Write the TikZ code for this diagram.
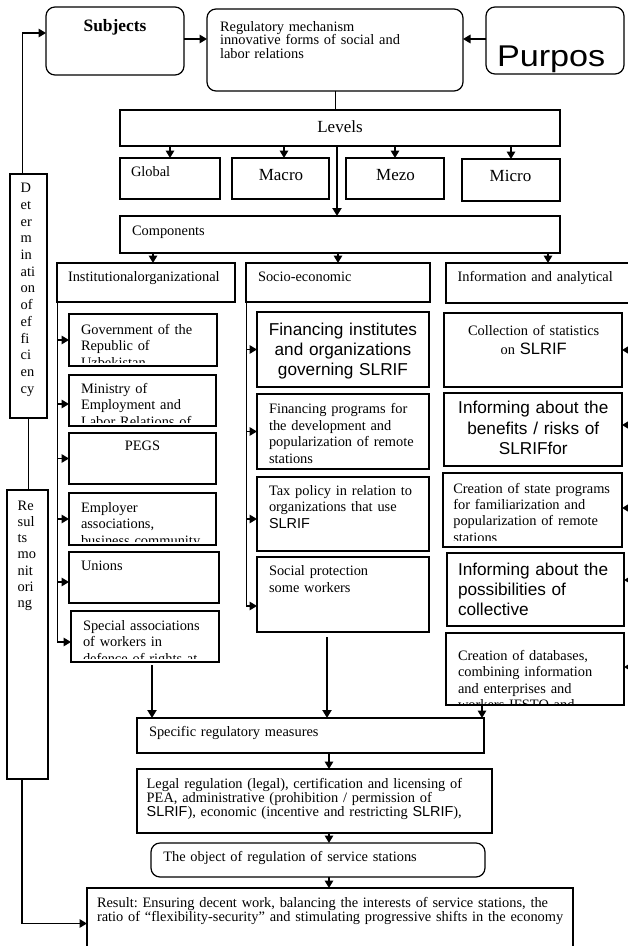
\documentclass[tikz,border=0pt]{standalone}
\usepackage{fontspec}
\setmainfont{Liberation Serif}
\newfontfamily\arial{Liberation Sans}
\usetikzlibrary{arrows.meta}
\frenchspacing
\tikzset{
 bx/.style={draw, line width=1.2pt, inner sep=0pt, outer sep=0pt, anchor=north west},
 rbx/.style={bx, rounded corners=9pt},
 tx/.style={inner sep=0pt, outer sep=0pt, anchor=base west, align=left, text width=560pt, font=\fontsize{14.4}{16.5}\selectfont},
 ctx/.style={tx, anchor=base, align=center, text width=200pt},
 arr/.style={line width=1.6pt, -{Triangle[length=7.5pt,width=8.5pt]}},
 tarr/.style={line width=2.3pt, -{Triangle[length=8pt,width=9pt]}},
 ln/.style={line width=1pt},
}
\newcommand\mkbox[6][bx]{\node[#1,minimum width={#5pt-#3pt},minimum height={#6pt-#4pt}] (#2) at (#3,#4) {};}
\newcommand\boxclip[2][4]{\clip (#2.north west) rectangle ([yshift=#1pt]#2.south east);}
\begin{document}
\begin{tikzpicture}[x=1pt,y=-1pt]
\useasboundingbox (0,0) rectangle (628,946);
\clip (0,0) rectangle (628,946);
% ---------- boxes
\mkbox[rbx]{subj}{46}{7}{184}{75}
\mkbox[rbx]{reg}{207}{9}{463}{91}
\mkbox[rbx]{purp}{486}{7}{624}{74}
\mkbox{lev}{120}{110}{560}{146}
\mkbox{glob}{120}{158}{220}{199}
\mkbox{macro}{232}{158}{329}{199}
\mkbox{mezo}{346}{158}{444}{199}
\mkbox{micro}{462}{159}{560}{201}
\mkbox{comp}{120}{216}{560}{253}
\mkbox{inst}{57}{263}{235}{302}
\mkbox{socio}{246}{263}{430}{302}
\mkbox{info}{446}{263}{640}{303}
\mkbox{gov}{69}{314}{217}{366}
\mkbox{mini}{69}{375}{216}{426}
\mkbox{pegs}{69}{433}{216}{484}
\mkbox{empl}{69}{493}{216}{545}
\mkbox{unio}{69}{552}{219}{603}
\mkbox{spas}{71}{611}{219}{662}
\mkbox{fina}{257}{312}{429}{387}
\mkbox{finb}{257}{394}{429}{469}
\mkbox{tax}{257}{477}{429}{551}
\mkbox{soc}{257}{557}{429}{632}
\mkbox{coll}{444}{313}{622}{387}
\mkbox{bene}{444}{393}{622}{466}
\mkbox{cre}{443}{473}{622}{547}
\mkbox{poss}{447}{553}{624}{626}
\mkbox{datab}{446}{633}{624}{705}
\mkbox{spec}{137}{718}{484}{753}
\mkbox{legal}{137}{769}{492}{833}
\mkbox[rbx]{obj}{151}{843}{485}{877}
\mkbox{result}{87}{888}{573}{955}
\mkbox{det}{10}{174}{47}{418}
\mkbox{resm}{7}{490}{48}{779}
% ---------- texts
\node[ctx, font=\fontsize{17.4}{18}\selectfont\bfseries] (tsubj) at (115,31.7) {Subjects};
\node[tx, font=\fontsize{14.4}{13.7}\selectfont] (treg) at (220,31) {Regulatory mechanism\\innovative forms of social and\\labor relations};
\node[tx] (tpurp) at (497,66) {\scalebox{1.14}[1]{\fontsize{30}{30}\selectfont\arial Purpos}};
\node[ctx, font=\fontsize{17}{18}\selectfont] (tlev) at (340,132.7) {Levels};
\node[tx] (tglob) at (131,176.7) {Global};
\node[ctx, font=\fontsize{17}{18}\selectfont] (tmacro) at (281,180) {Macro};
\node[ctx, font=\fontsize{17}{18}\selectfont] (tmezo) at (395.5,180) {Mezo};
\node[ctx, font=\fontsize{17}{18}\selectfont] (tmicro) at (510.5,181) {Micro};
\node[tx] (tcomp) at (132,235) {Components};
\node[tx] (tinst) at (68,281.7) {Institutionalorganizational};
\node[tx] (tsocio) at (258,281.7) {Socio-economic};
\node[tx] (tinfo) at (457.7,281.7) {Information and analytical};
\begin{scope}\boxclip{gov}
\node[tx, font=\fontsize{14.4}{16.5}\selectfont] (tgov) at (81,334.3) {Government of the\\Republic of\\Uzbekistan};
\end{scope}
\begin{scope}\boxclip{mini}
\node[tx, font=\fontsize{14.4}{16.5}\selectfont] (tmini) at (81,393.3) {Ministry of\\Employment and\\Labor Relations of};
\end{scope}
\node[ctx] (tpegs) at (142.5,450.7) {PEGS};
\begin{scope}\boxclip{empl}
\node[tx, font=\fontsize{14.4}{16.5}\selectfont] (templ) at (81,512) {Employer\\associations,\\business community};
\end{scope}
\node[tx] (tunio) at (81,570) {Unions};
\begin{scope}\boxclip{spas}
\node[tx, font=\fontsize{14.4}{16.5}\selectfont] (tspas) at (83,630) {Special associations\\of workers in\\defence of rights at};
\end{scope}
\node[ctx, font=\fontsize{17.2}{20}\selectfont\arial] (tfina) at (343,335) {Financing institutes\\and organizations\\governing SLRIF};
\node[tx, font=\fontsize{14.4}{16.7}\selectfont] (tfinb) at (269,413.3) {Financing programs for\\the development and\\popularization of remote\\stations};
\node[tx, font=\fontsize{14.4}{16.7}\selectfont] (ttax) at (269,495) {Tax policy in relation to\\organizations that use\\{\arial SLRIF}};
\node[tx, font=\fontsize{14.4}{16.7}\selectfont] (tsoc) at (269,575.7) {Social protection\\some workers};
\node[ctx, font=\fontsize{14.4}{19}\selectfont] (tcoll) at (533.7,335) {Collection of statistics\\on {\arial\fontsize{16.5}{19}\selectfont SLRIF}};
\node[ctx, font=\fontsize{17.2}{20.8}\selectfont\arial] (tbene) at (533.3,413.3) {Informing about the\\benefits / risks of\\SLRIFfor};
\begin{scope}\boxclip[7]{cre}
\node[tx, font=\fontsize{14.4}{16.3}\selectfont] (tcre) at (453.3,493.3) {Creation of state programs\\for familiarization and\\popularization of remote\\stations};
\end{scope}
\node[tx, font=\fontsize{17.2}{20}\selectfont\arial] (tposs) at (458,575) {Informing about the\\possibilities of\\collective};
\begin{scope}\boxclip[1]{datab}
\node[tx, font=\fontsize{14.4}{16.5}\selectfont] (tdatab) at (458,660) {Creation of databases,\\combining information\\and enterprises and\\workers IFSTO and};
\end{scope}
\node[tx] (tspec) at (149,736.7) {Specific regulatory measures};
\node[tx, font=\fontsize{14.4}{14.2}\selectfont] (tlegal) at (146.7,788.3) {Legal regulation (legal), certification and licensing of\\PEA, administrative (prohibition / permission of\\{\arial SLRIF}), economic (incentive and restricting {\arial SLRIF}),};
\node[tx] (tobj) at (163.3,861.7) {The object of regulation of service stations};
\node[tx, font=\fontsize{14.4}{13}\selectfont] (tresult) at (97,907.3) {Result: Ensuring decent work, balancing the interests of service stations, the\\ratio of “flexibility-security” and stimulating progressive shifts in the economy};
\node[tx, font=\fontsize{14.4}{16.7}\selectfont] (tdet) at (20.7,192.7) {D\\et\\er\\m\\in\\ati\\on\\of\\ef\\fi\\ci\\en\\cy};
\node[tx, font=\fontsize{14.4}{16.3}\selectfont] (tresm) at (17.7,510) {Re\\sul\\ts\\mo\\nit\\ori\\ng};
% ---------- connectors
\draw[arr] ([xshift=-6pt]det.north) |- ([yshift=8pt]subj.west);
\draw[arr] ([yshift=2pt]subj.east) -- ([yshift=2pt]subj.east -| reg.west);
\draw[arr] ([yshift=1.5pt]purp.west) -- ([yshift=1.5pt]purp.west -| reg.east);
\draw[ln] (reg.south) -- (reg.south |- lev.north);
\draw[arr] (lev.south -| glob.north) -- (glob.north);
\path ([xshift=3.5pt]macro.north) coordinate (mca);
\draw[arr] (lev.south -| mca) -- (mca);
\draw[arr] (lev.south -| mezo.north) -- (mezo.north);
\draw[arr] (lev.south -| micro.north) -- (micro.north);
\path ([xshift=-3pt]lev.south) coordinate (lca);
\draw[tarr] (lca) -- (lca |- comp.north);
\path ([xshift=7pt]inst.north) coordinate (ia);
\draw[arr] (comp.south -| ia) -- (ia);
\draw[arr] (comp.south -| socio.north) -- (socio.north);
\path (548,263) coordinate (nfa);
\draw[arr] (comp.south -| nfa) -- (nfa);
% institutional column
\path ([yshift=-5.5pt]spas.west) coordinate (spw);
\draw[ln] (inst.south west) -- (inst.south west |- spw);
\draw[arr] (inst.south west |- gov.west) -- (gov.west);
\path ([yshift=-3.5pt]mini.west) coordinate (miw);
\draw[arr] (inst.south west |- miw) -- (miw);
\draw[arr] (inst.south west |- pegs.west) -- (pegs.west);
\draw[arr] (inst.south west |- empl.west) -- (empl.west);
\path ([yshift=-4.5pt]unio.west) coordinate (unw);
\draw[arr] (inst.south west |- unw) -- (unw);
\draw[arr] (inst.south west |- spw) -- (spw);
% socio column
\path ([yshift=-11.5pt]soc.west) coordinate (sow);
\draw[ln] (socio.south west) -- (socio.south west |- sow);
\draw[arr] (socio.south west |- fina.west) -- (fina.west);
\draw[arr] (socio.south west |- finb.west) -- (finb.west);
\path ([yshift=-5pt]tax.west) coordinate (taw);
\draw[arr] (socio.south west |- taw) -- (taw);
\draw[arr] (socio.south west |- sow) -- (sow);
% info column (arrows from the right)
\coordinate (rgt) at (636,300);
\draw[arr] (coll.east -| rgt) -- (coll.east);
\path ([yshift=4.5pt]bene.east) coordinate (bee);
\draw[arr] (bee -| rgt) -- (bee);
\path ([yshift=2pt]cre.east) coordinate (cee);
\draw[arr] (cee -| rgt) -- (cee);
\path ([yshift=9.5pt]poss.east) coordinate (poe);
\draw[arr] (poe -| rgt) -- (poe);
\path ([yshift=2pt]datab.east) coordinate (dae);
\draw[arr] (dae -| rgt) -- (dae);
% down to specific measures
\path ([xshift=7pt]spas.south) coordinate (sps);
\draw[tarr] ([yshift=-3pt]sps) -- (sps |- spec.north);
\path ([xshift=-16pt]soc.south) coordinate (sos);
\draw[tarr] ([yshift=-5pt]sos) -- (sos |- spec.north);
\path (482,705) coordinate (das);
\draw[arr] (das) -- (das |- spec.north);
\path (329,753) coordinate (sps2);
\draw[arr] (sps2) -- (sps2 |- legal.north);
\draw[arr] (sps2 |- legal.south) -- (sps2 |- obj.north);
\draw[arr] (sps2 |- obj.south) -- (sps2 |- result.north);
% left chain
\draw[ln] (det.south) -- (det.south |- resm.north);
\path ([yshift=-2pt]result.west) coordinate (rew);
\draw[arr] ([xshift=-5.5pt]resm.south) |- (rew);
\end{tikzpicture}
\end{document}
